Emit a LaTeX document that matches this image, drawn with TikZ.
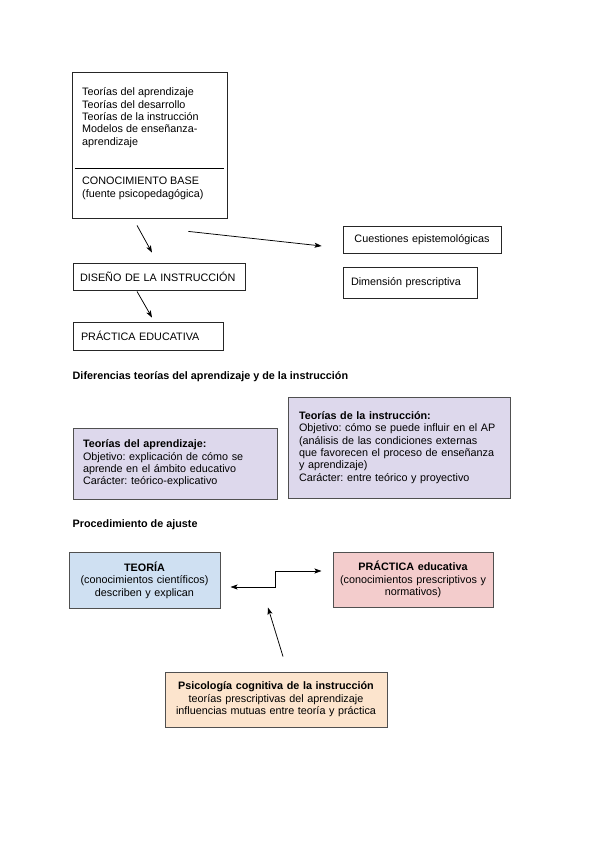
\documentclass[tikz,border=0pt]{standalone}
\usepackage{fontspec}
\setmainfont{Liberation Sans}
\usepackage{tikz}
\usetikzlibrary{arrows.meta}
\usetikzlibrary{calc}

\definecolor{lila}{RGB}{221,216,236}
\definecolor{celeste}{RGB}{207,224,242}
\definecolor{rosa}{RGB}{243,204,204}
\definecolor{melocoton}{RGB}{252,228,205}
\definecolor{borde}{RGB}{80,80,80}
\newcommand{\tamano}{\fontsize{10.8}{12.4}\selectfont\frenchspacing\hyphenpenalty=10000}

\tikzset{
  caja/.style={draw=black!85, line width=0.8pt, rectangle, inner ysep=0pt},
  ccolor/.style={caja, draw=borde, line width=1pt, align=center, inner xsep=5pt},
  texto/.style={anchor=north west, inner sep=0pt, align=left},
  titulo/.style={anchor=base west, inner sep=0pt, font=\tamano\bfseries},
  flecha/.style={line width=0.75pt, -{Stealth[length=7pt,width=5pt,inset=1.5pt]}},
  flechas/.style={line width=0.75pt, {Stealth[length=7pt,width=5pt,inset=1.5pt]}-{Stealth[length=7pt,width=5pt,inset=1.5pt]}}
}

\begin{document}
\begin{tikzpicture}[x=1pt, y=-1pt, font=\tamano]
\useasboundingbox (0,0) rectangle (599,848);

\node[caja, minimum width=155pt, minimum height=146pt] (base) at (149.5,145) {};
\node[texto] (teorias) at (82,87.5) {Teorías del aprendizaje\\Teorías del desarrollo\\Teorías de la instrucción\\Modelos de enseñanza-\\aprendizaje};
\node[texto] (conocimiento) at (82,177) {CONOCIMIENTO BASE\\(fuente psicopedagógica)};
\draw[line width=0.8pt, shorten <=3pt, shorten >=3pt] (base.west |- 0,168) -- (base.east |- 0,168);

\node[caja, minimum height=27pt, text width=158pt, inner xsep=7pt, align=left] (diseno) at (159,276.5) {DISEÑO DE LA INSTRUCCIÓN};
\node[caja, minimum height=28pt, text width=134pt, inner xsep=8pt, align=left] (practica) at (148,336) {PRÁCTICA EDUCATIVA};
\node[caja, minimum height=27pt, text width=140pt, inner xsep=9pt, align=center] (cuestiones) at (422,239.5) {Cuestiones epistemológicas};
\node[caja, minimum height=31pt, text width=118pt, inner xsep=8pt, align=left] (dimension) at (410,282.5) {Dimensión prescriptiva};

\draw[flecha] ([shift={(-12.5,7)}]base.south) -- ([shift={(-7,-10)}]diseno.north);
\draw[flecha] ([shift={(-39,13)}]base.south east) -- ([shift={(-21,6.5)}]cuestiones.west);
\draw[flecha] ([shift={(-22,1)}]diseno.south) -- ([shift={(4,-4)}]practica.north);

\node[titulo] (diferencias) at (72.5,379) {Diferencias teorías del aprendizaje y de la instrucción};

\node[ccolor, fill=lila, minimum height=71pt, text width=184pt, inner xsep=10pt, align=left] (taprendizaje) at (175,463.5)
  {{\bfseries Teorías del aprendizaje:}\\Objetivo: explicación de cómo se\\aprende en el ámbito educativo\\Carácter: teórico-explicativo};
\node[ccolor, fill=lila, minimum height=101pt, text width=200pt, inner xsep=11pt, align=left] (tinstruccion) at (399,447.5)
  {{\bfseries Teorías de la instrucción:}\\Objetivo: cómo se puede influir en el AP\\(análisis de las condiciones externas\\que favorecen el proceso de enseñanza\\y aprendizaje)\\Carácter: entre teórico y proyectivo};

\node[titulo] (procedimiento) at (72.5,527.5) {Procedimiento de ajuste};

\node[ccolor, fill=celeste, minimum height=56pt, text width=141pt] (teoria) at (144.5,580)
  {{\bfseries TEORÍA}\\(conocimientos científicos)\\describen y explican};
\node[ccolor, fill=rosa, minimum height=55pt, text width=150pt] (practicaed) at (413,579.5)
  {{\bfseries PRÁCTICA educativa}\\(conocimientos prescriptivos y\\normativos)};
\node[ccolor, fill=melocoton, minimum height=55pt, text width=212pt] (psico) at (276,699.5)
  {{\bfseries Psicología cognitiva de la instrucción}\\teorías prescriptivas del aprendizaje\\influencias mutuas entre teoría y práctica};

\draw[flechas] ([shift={(10,7)}]teoria.east) -- ++(45,0) |- ([shift={(-11,-8.5)}]practicaed.west);
\draw[flecha] ([shift={(7,-15)}]psico.north) -- ([shift={(-8,-64)}]psico.north);
\end{tikzpicture}
\end{document}
